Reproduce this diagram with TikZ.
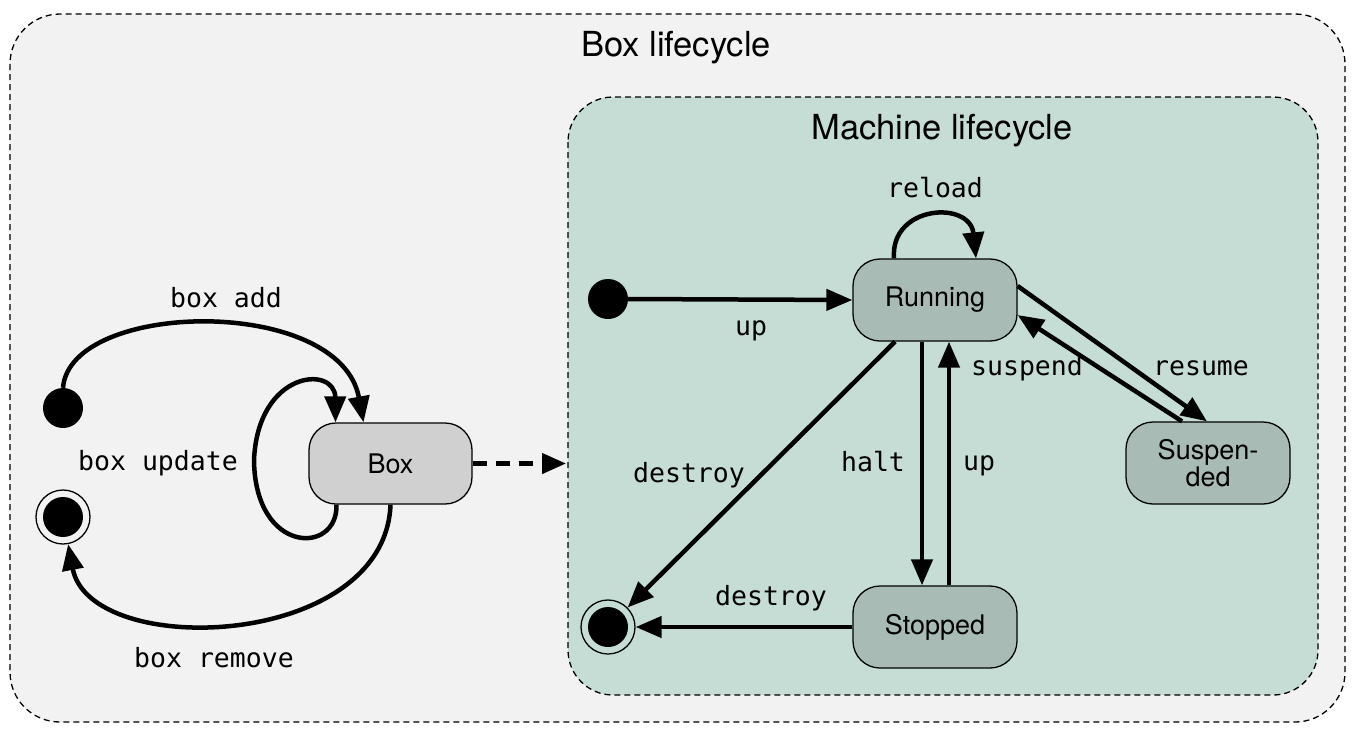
\documentclass[tikz,border=0pt]{standalone}
\usepackage{fontspec}
\setmainfont{TeX Gyre Heros}
\newfontfamily\lblmono{DejaVu Sans Mono}
\usetikzlibrary{arrows.meta}
\definecolor{outerbg}{HTML}{F2F2F2}
\definecolor{innerbg}{HTML}{C5DDD5}
\definecolor{boxfill}{HTML}{D0D0D0}
\definecolor{statefill}{HTML}{A8BBB4}
\begin{document}
\begin{tikzpicture}[x=1pt,y=-1pt,
  cont/.style={draw=black, dash pattern=on 6pt off 4pt, line width=1.3pt},
  title/.style={font=\fontsize{34.5}{38}\selectfont, inner sep=0pt},
  state/.style={draw=black, line width=1.3pt, rounded corners=27pt, minimum width=164pt, minimum height=82pt, font=\fontsize{27}{30}\selectfont, align=center, inner sep=0pt, fill=statefill},
  initdot/.style={circle, fill=black, minimum size=40pt, inner sep=0pt},
  finring/.style={circle, draw=black, line width=1.3pt, minimum size=54pt, inner sep=0pt},
  tr/.style={line width=4.5pt, -{Triangle[length=26pt,width=21pt]}},
  lbl/.style={font=\lblmono\fontsize{26.5}{30}\selectfont, inner sep=0pt},
]
\useasboundingbox (0,0) rectangle (1356,732);
% containers
\draw[cont, fill=outerbg, rounded corners=50pt] (10,14) rectangle (1345,722);
\node[title] (t1) at (676,48) {Box lifecycle};
\draw[cont, fill=innerbg, rounded corners=45pt] (568,97) rectangle (1318,695);
\node[title] (t2) at (942,131) {Machine lifecycle};

% left part
\node[state, fill=boxfill, minimum width=163pt, minimum height=81pt] (box) at (390.5,463.5) {Box};
\node[initdot] (init1) at (63,408) {};
\node[finring] (fin1) at (63,517) {};
\fill (fin1.center) circle (20);
\coordinate (mlc) at (566,463.5);

\draw[tr] (init1.north) .. controls (70,300) and (340,295) .. ([xshift=-27pt]box.north);
\draw[tr] ([xshift=-54pt]box.south) .. controls (338,555) and (255,555) .. (254,460) .. controls (258,370) and (335,365) .. ([xshift=-55pt]box.north);
\draw[tr] (box.south) .. controls (385,650) and (90,660) .. (fin1);
\draw[line width=4.5pt, dash pattern=on 14pt off 9pt, -{Triangle[length=24pt,width=20pt]}] (box.east) -- (mlc);

\node[lbl] (l1) at (226,298) {box add};
\node[lbl] (l2) at (158,463) {box update};
\node[lbl] (l3) at (214,658) {box remove};

% machine part
\node[initdot] (init2) at (608,299) {};
\node[finring] (fin2) at (608,627) {};
\fill (fin2.center) circle (20);
\node[state] (run) at (935,300) {Running};
\node[state] (stop) at (935,627) {Stopped};
\node[state] (susp) at (1208,463) {Suspen-\\[-3pt]ded};

\draw[tr] (init2.east) -- (run.west);
\draw[tr] ([xshift=-41pt]run.north) .. controls (890,205) and (970,200) .. ([xshift=41pt]run.north);
\draw[tr] ([yshift=14pt]run.east) -- ([xshift=-1pt]susp.north);
\draw[tr] ([xshift=-26pt]susp.north) -- ([yshift=-15pt]run.east);
\draw[tr] ([xshift=-13pt]run.south) -- ([xshift=-13pt]stop.north);
\draw[tr] ([xshift=14pt]stop.north) -- ([xshift=14pt]run.south);
\draw[tr] ([xshift=-40pt]run.south) -- (fin2);
\draw[tr] (stop.west) -- (fin2);

\node[lbl] (m1) at (751,331) {up};
\node[lbl] (m2) at (935,188) {reload};
\node[lbl] (m3) at (1027,368) {suspend};
\node[lbl] (m4) at (1201,368) {resume};
\node[lbl] (m5) at (873,462) {halt};
\node[lbl] (m6) at (979,466) {up};
\node[lbl] (m7) at (689,475) {destroy};
\node[lbl] (m8) at (771,598) {destroy};
\end{tikzpicture}
\end{document}
